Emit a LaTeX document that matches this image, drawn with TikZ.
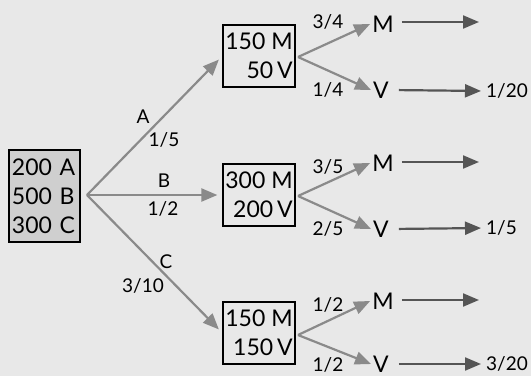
\documentclass[tikz,border=0pt]{standalone}
\usepackage{fontspec}
\setmainfont{Lato}
\usetikzlibrary{arrows.meta}
\definecolor{bg}{HTML}{E8E8E8}
\definecolor{rootfill}{HTML}{CFCFCF}
\definecolor{arrowgray}{HTML}{8A8A8A}
\definecolor{darkarrow}{HTML}{555555}
\begin{document}
\begin{tikzpicture}[x=1pt,y=-1pt,
  big/.style={font=\fontsize{23}{29}\selectfont},
  small/.style={font=\fontsize{19}{22}\selectfont},
  rootbox/.style={draw, line width=2pt, fill=rootfill, minimum width=71pt, minimum height=92pt, text width=65pt, align=left, inner sep=2pt, big},
  stagebox/.style={draw, line width=2pt, minimum width=71pt, minimum height=62pt, align=right, inner sep=2pt, big},
  leaf/.style={inner sep=2pt, big},
  lbl/.style={inner sep=0pt, small},
  res/.style={inner sep=2pt, anchor=west, font=\fontsize{19}{22}\selectfont},
  garrow/.style={draw=arrowgray, line width=2.2pt, -{Triangle[length=16pt,width=13pt]}, arrowgray},
  harrow/.style={draw=darkarrow, line width=2.2pt, -{Triangle[length=16pt,width=13pt]}, darkarrow}
]
\useasboundingbox (0,0) rectangle (531,376);
\fill[bg] (0,0) rectangle (531,376);

\node[rootbox] (root) at (44.5,196) {200 A\\500 B\\300 C};
\coordinate (r0) at (87,195);

\node[stagebox] (b1) at (259,56) {150 M\\50\,V};
\node[stagebox] (b2) at (259,195) {300 M\\200\,V};
\node[stagebox] (b3) at (259,333) {150 M\\150\,V};

\draw[garrow, shorten >=5pt] (r0) -- (b1.west);
\draw[garrow, shorten >=5pt] (r0) -- (b2.west);
\draw[garrow, shorten >=5pt] (r0) -- (b3.west);

\node[lbl] (la) at (143,117) {A};
\node[lbl] (la2) at (164,140) {1/5};
\node[lbl] (lb) at (164,181) {B};
\node[lbl] (lb2) at (163,209) {1/2};
\node[lbl] (lc) at (166,262) {C};
\node[lbl] (lc2) at (143,286) {3/10};

\coordinate (f1) at (298,57);
\coordinate (f2) at (298,196);
\coordinate (f3) at (298,335);

\node[leaf] (m1) at (383,24) {M};
\node[leaf] (v1) at (381,90) {V};
\node[leaf] (m2) at (383,163) {M};
\node[leaf] (v2) at (381,229) {V};
\node[leaf] (m3) at (383,301) {M};
\node[leaf] (v3) at (381,364) {V};

\draw[garrow] (f1) -- (m1.west);
\draw[garrow] (f1) -- (v1.west);
\draw[garrow] (f2) -- (m2.west);
\draw[garrow] (f2) -- (v2.west);
\draw[garrow] (f3) -- (m3.west);
\draw[garrow] (f3) -- (v3.west);

\node[lbl] (p1) at (328,22) {3/4};
\node[lbl] (q1) at (328,90) {1/4};
\node[lbl] (p2) at (328,167) {3/5};
\node[lbl] (q2) at (328,229) {2/5};
\node[lbl] (p3) at (328,305) {1/2};
\node[lbl] (q3) at (328,365) {1/2};

\node[res] (r1) at (484,91) {1/20};
\node[res] (r2) at (484,228) {1/5};
\node[res] (r3) at (484,364) {3/20};

\coordinate (e1) at (479,22);
\coordinate (e2) at (479,162);
\coordinate (e3) at (479,300);

\draw[harrow] ([xshift=6pt]m1.east |- e1) -- (e1);
\draw[harrow] ([xshift=6pt]m2.east |- e2) -- (e2);
\draw[harrow] ([xshift=6pt]m3.east |- e3) -- (e3);
\draw[harrow, shorten <=8pt, shorten >=3pt] (v1.east) -- (r1.west);
\draw[harrow, shorten <=8pt, shorten >=3pt] (v2.east) -- (r2.west);
\draw[harrow, shorten <=8pt, shorten >=3pt] (v3.east) -- (r3.west);
\end{tikzpicture}
\end{document}
